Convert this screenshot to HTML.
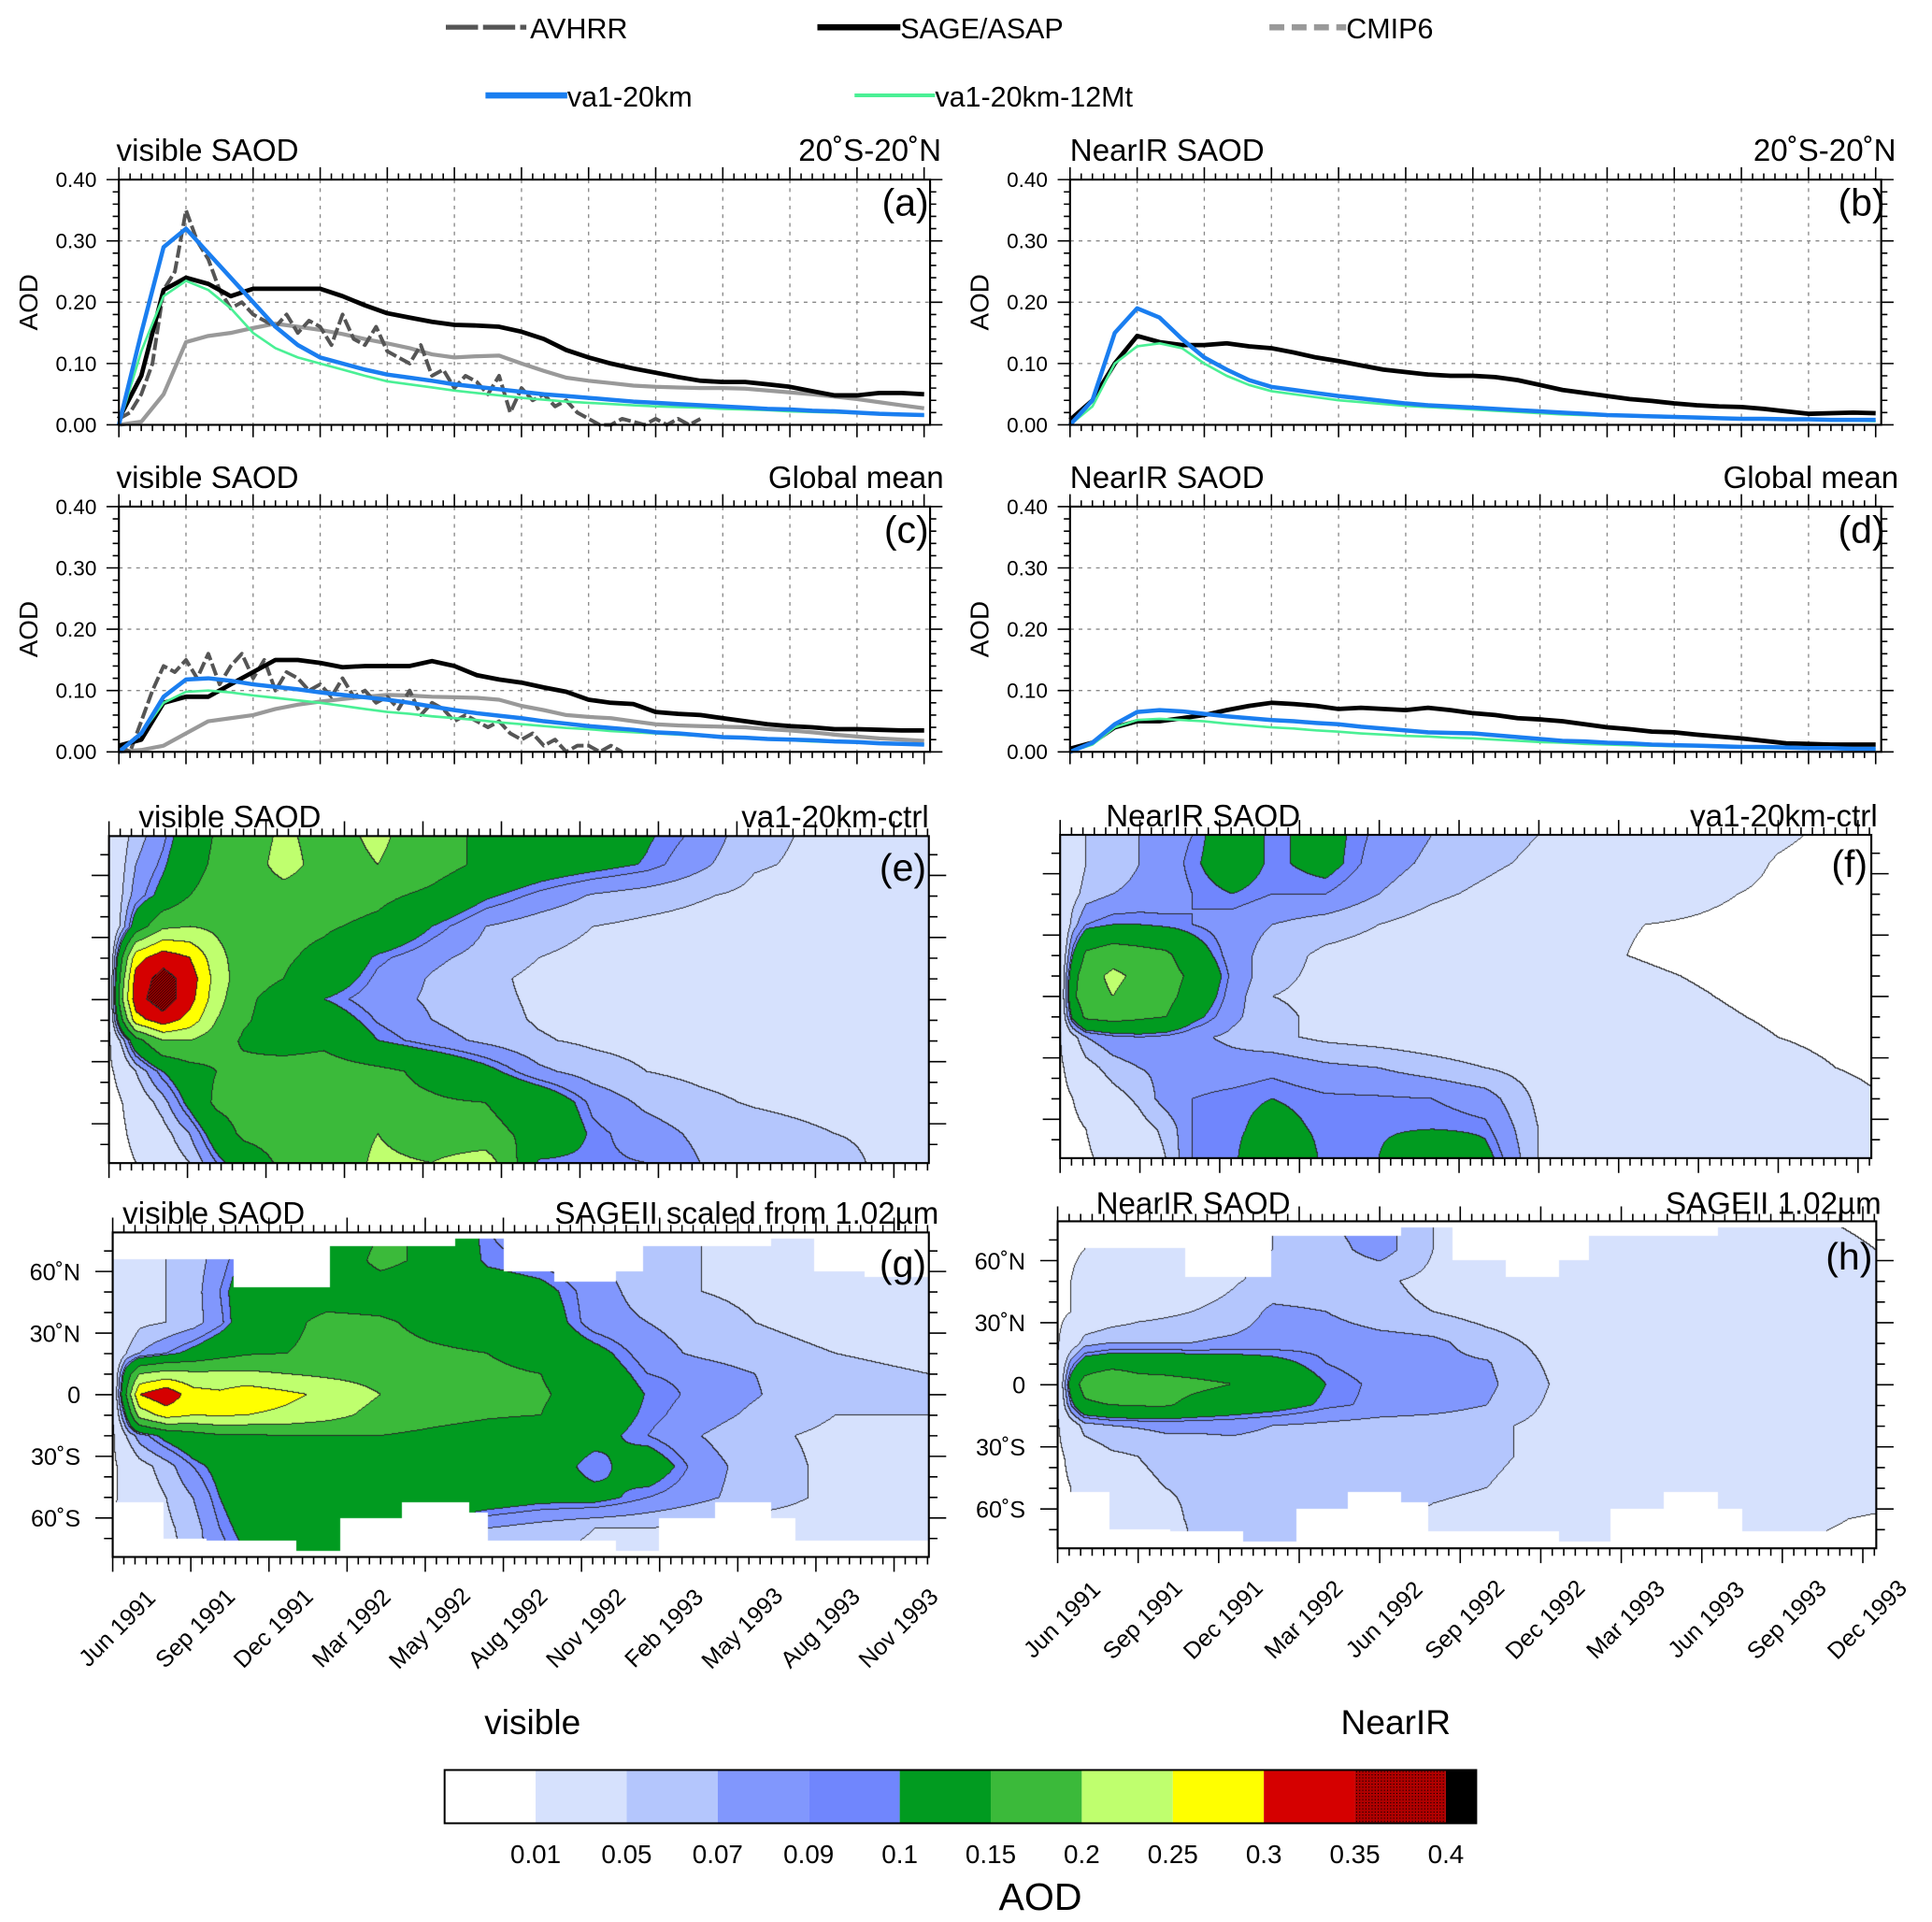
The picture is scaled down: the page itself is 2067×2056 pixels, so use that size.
<!DOCTYPE html>
<html><head><meta charset="utf-8"><style>
html,body{margin:0;padding:0;background:#fff;}
#wrap{position:relative;width:2067px;height:2056px;overflow:hidden;font-family:"Liberation Sans",sans-serif;}
svg{position:absolute;left:0;top:0;}
canvas{position:absolute;}
text{font-family:"Liberation Sans",sans-serif;fill:#000;}
</style></head><body>
<div id="wrap">
<canvas id="cv-e"></canvas>
<canvas id="cv-f"></canvas>
<canvas id="cv-g"></canvas>
<canvas id="cv-h"></canvas>
<svg id="chart" width="2067" height="2056" viewBox="0 0 1560 1551.7" preserveAspectRatio="none">
<g>
<line x1="360" y1="22" x2="425" y2="22" stroke="#555" stroke-width="4" stroke-dasharray="26,4,26,4,3,0"/>
<text x="428" y="31" font-size="23">AVHRR</text>
<line x1="660" y1="22" x2="727" y2="22" stroke="#000" stroke-width="5"/>
<text x="727" y="31" font-size="23">SAGE/ASAP</text>
<line x1="1025" y1="22" x2="1087" y2="22" stroke="#999" stroke-width="5" stroke-dasharray="12,6"/>
<text x="1087" y="31" font-size="23">CMIP6</text>
<line x1="392" y1="77" x2="458" y2="77" stroke="#1a7ef0" stroke-width="5"/>
<text x="458" y="86" font-size="23">va1-20km</text>
<line x1="690" y1="77" x2="755" y2="77" stroke="#4af095" stroke-width="3"/>
<text x="755" y="86" font-size="23">va1-20km-12Mt</text>
</g>
<g font-size="25">
<text x="94" y="130">visible SAOD</text>
<text x="760" y="130" text-anchor="end">20˚S-20˚N</text>
<text x="94" y="394">visible SAOD</text>
<text x="762" y="394" text-anchor="end">Global mean</text>
<text x="864" y="130">NearIR SAOD</text>
<text x="1531" y="130" text-anchor="end">20˚S-20˚N</text>
<text x="864" y="394">NearIR SAOD</text>
<text x="1533" y="394" text-anchor="end">Global mean</text>
<text x="112" y="668">visible SAOD</text>
<text x="750" y="668" text-anchor="end">va1-20km-ctrl</text>
<text x="99" y="988">visible SAOD</text>
<text x="758" y="988" text-anchor="end">SAGEII scaled from 1.02µm</text>
<text x="893" y="667">NearIR SAOD</text>
<text x="1516" y="667" text-anchor="end">va1-20km-ctrl</text>
<text x="885" y="980">NearIR SAOD</text>
<text x="1519" y="980" text-anchor="end">SAGEII 1.02µm</text>
</g>
<g font-size="31">
<text x="750" y="174" text-anchor="end">(a)</text>
<text x="750" y="438" text-anchor="end">(c)</text>
<text x="1522" y="174" text-anchor="end">(b)</text>
<text x="1522" y="438" text-anchor="end">(d)</text>
<text x="748" y="711" text-anchor="end">(e)</text>
<text x="748" y="1031" text-anchor="end">(g)</text>
<text x="1508" y="708" text-anchor="end">(f)</text>
<text x="1512" y="1025" text-anchor="end">(h)</text>
</g>
<text x="430" y="1400" font-size="28" text-anchor="middle">visible</text>
<text x="1127" y="1400" font-size="28" text-anchor="middle">NearIR</text>
<g id="cbar"></g>
<text x="840" y="1542" font-size="31" text-anchor="middle">AOD</text>
</svg>
</div>
<script>
// ---------- time series data (monthly, month 0 = Jun 1991) ----------
const a_blue=[0,0.15,0.29,0.32,0.28,0.24,0.2,0.16,0.13,0.11,0.1,0.09,0.082,0.077,0.072,0.066,0.062,0.058,0.054,0.05,0.047,0.044,0.041,0.038,0.036,0.034,0.032,0.03,0.028,0.026,0.025,0.023,0.022,0.02,0.018,0.017,0.016];
const a_green=[0,0.12,0.21,0.235,0.22,0.19,0.15,0.125,0.11,0.1,0.09,0.08,0.071,0.066,0.061,0.056,0.052,0.048,0.044,0.041,0.038,0.036,0.034,0.032,0.03,0.029,0.028,0.026,0.025,0.024,0.022,0.021,0.02,0.019,0.017,0.016,0.015];
const a_sage=[0.01,0.08,0.22,0.24,0.23,0.21,0.222,0.222,0.222,0.222,0.21,0.195,0.182,0.175,0.168,0.163,0.162,0.16,0.152,0.14,0.122,0.11,0.1,0.092,0.085,0.078,0.072,0.07,0.07,0.066,0.062,0.055,0.048,0.048,0.052,0.052,0.05];
const a_cmip=[0,0.005,0.05,0.135,0.145,0.15,0.158,0.165,0.16,0.155,0.148,0.14,0.133,0.125,0.115,0.11,0.112,0.113,0.1,0.088,0.077,0.072,0.068,0.064,0.062,0.061,0.06,0.06,0.059,0.056,0.053,0.05,0.046,0.042,0.037,0.032,0.027];
const a_avhrr=[0.01,0.02,0.05,0.1,0.22,0.25,0.35,0.3,0.27,0.22,0.19,0.2,0.18,0.17,0.16,0.18,0.15,0.17,0.16,0.13,0.18,0.14,0.13,0.16,0.12,0.11,0.1,0.13,0.08,0.09,0.06,0.08,0.07,0.05,0.08,0.02,0.06,0.04,0.05,0.03,0.04,0.02,0.01,0.0,0.0,0.01,0.005,0.0,0.01,0.0,0.01,0.0,0.01];
const c_blue=[0,0.03,0.09,0.118,0.12,0.116,0.11,0.106,0.102,0.097,0.093,0.089,0.085,0.08,0.074,0.068,0.063,0.059,0.055,0.05,0.046,0.042,0.039,0.036,0.032,0.03,0.027,0.024,0.023,0.021,0.02,0.019,0.017,0.016,0.014,0.013,0.012];
const c_green=[0,0.03,0.08,0.098,0.1,0.097,0.092,0.088,0.084,0.08,0.075,0.07,0.065,0.062,0.058,0.055,0.052,0.048,0.045,0.042,0.039,0.037,0.034,0.032,0.03,0.028,0.026,0.024,0.022,0.02,0.019,0.017,0.016,0.015,0.014,0.013,0.012];
const c_sage=[0.01,0.02,0.08,0.09,0.09,0.11,0.13,0.15,0.15,0.145,0.138,0.14,0.14,0.14,0.148,0.14,0.125,0.118,0.113,0.105,0.098,0.085,0.08,0.078,0.065,0.062,0.06,0.055,0.05,0.045,0.042,0.04,0.037,0.037,0.036,0.035,0.035];
const c_cmip=[0,0.003,0.01,0.03,0.05,0.055,0.06,0.07,0.077,0.082,0.086,0.09,0.093,0.092,0.09,0.089,0.088,0.085,0.075,0.068,0.06,0.057,0.055,0.05,0.045,0.043,0.042,0.041,0.04,0.037,0.035,0.032,0.028,0.025,0.022,0.02,0.018];
const c_avhrr=[0.01,0.0,0.05,0.1,0.14,0.13,0.15,0.12,0.16,0.11,0.14,0.16,0.12,0.15,0.1,0.13,0.12,0.1,0.11,0.09,0.12,0.09,0.1,0.08,0.09,0.07,0.1,0.06,0.08,0.07,0.05,0.06,0.05,0.04,0.05,0.03,0.02,0.03,0.01,0.02,0.0,0.01,0.01,0.0,0.01,0.0];
const b_blue=[0,0.04,0.15,0.19,0.175,0.14,0.11,0.09,0.073,0.062,0.057,0.052,0.047,0.043,0.039,0.035,0.032,0.03,0.028,0.026,0.024,0.022,0.02,0.018,0.016,0.015,0.014,0.013,0.012,0.011,0.01,0.01,0.009,0.009,0.008,0.008,0.008];
const b_green=[0,0.03,0.1,0.128,0.133,0.125,0.1,0.08,0.065,0.055,0.05,0.045,0.04,0.037,0.034,0.031,0.029,0.027,0.025,0.023,0.021,0.019,0.017,0.016,0.015,0.014,0.013,0.012,0.011,0.01,0.01,0.009,0.008,0.008,0.007,0.007,0.006];
const b_sage=[0.008,0.04,0.1,0.145,0.135,0.13,0.13,0.133,0.128,0.125,0.118,0.11,0.104,0.097,0.09,0.086,0.082,0.08,0.08,0.078,0.073,0.065,0.057,0.052,0.047,0.042,0.039,0.035,0.032,0.03,0.029,0.026,0.022,0.018,0.019,0.02,0.019];
const d_blue=[0,0.015,0.045,0.065,0.068,0.066,0.062,0.058,0.055,0.052,0.05,0.047,0.045,0.041,0.038,0.035,0.032,0.031,0.03,0.027,0.024,0.021,0.018,0.017,0.015,0.014,0.012,0.011,0.01,0.009,0.008,0.008,0.007,0.006,0.006,0.005,0.005];
const d_green=[0,0.012,0.04,0.052,0.054,0.052,0.05,0.046,0.043,0.04,0.038,0.035,0.033,0.03,0.028,0.026,0.025,0.023,0.022,0.02,0.018,0.016,0.015,0.013,0.012,0.011,0.01,0.009,0.009,0.008,0.007,0.006,0.006,0.005,0.005,0.004,0.004];
const d_sage=[0.005,0.015,0.04,0.05,0.05,0.055,0.06,0.068,0.075,0.08,0.078,0.075,0.07,0.072,0.07,0.068,0.072,0.068,0.063,0.06,0.055,0.053,0.05,0.045,0.04,0.037,0.033,0.032,0.028,0.025,0.022,0.018,0.014,0.013,0.012,0.012,0.012];
const yTicks=[0,0.1,0.2,0.3,0.4];
const yTickLabels=["0.00","0.10","0.20","0.30","0.40"];

// ---------- contour data ----------
const gridMonths=[0,0.5,1,2,3,4,5,6.5,8,10,12,14,16,18,20,22,24,27,30.5];
const gridLats=[79,65,50,35,20,10,0,-10,-20,-35,-50,-65,-79];
const eGrid=[
[0.02,0.04,0.06,0.085,0.12,0.155,0.17,0.21,0.18,0.21,0.17,0.14,0.13,0.12,0.103,0.085,0.055,0.045,0.04],
[0.02,0.045,0.07,0.095,0.13,0.16,0.17,0.22,0.18,0.2,0.17,0.14,0.12,0.11,0.098,0.075,0.052,0.045,0.04],
[0.02,0.05,0.08,0.11,0.15,0.17,0.17,0.18,0.17,0.16,0.14,0.105,0.085,0.068,0.06,0.052,0.045,0.04,0.035],
[0.01,0.06,0.12,0.19,0.2,0.19,0.17,0.16,0.155,0.14,0.1,0.07,0.058,0.05,0.045,0.042,0.04,0.037,0.035],
[0.01,0.15,0.28,0.33,0.3,0.22,0.17,0.155,0.14,0.095,0.075,0.062,0.05,0.045,0.042,0.04,0.038,0.036,0.035],
[0.01,0.18,0.32,0.37,0.33,0.23,0.17,0.15,0.125,0.085,0.068,0.055,0.045,0.042,0.04,0.038,0.037,0.035,0.035],
[0.01,0.2,0.33,0.38,0.32,0.22,0.16,0.13,0.1,0.078,0.067,0.055,0.047,0.042,0.04,0.038,0.037,0.035,0.035],
[0.01,0.15,0.28,0.33,0.28,0.2,0.155,0.13,0.12,0.088,0.07,0.057,0.048,0.044,0.041,0.039,0.037,0.035,0.035],
[0.005,0.06,0.13,0.2,0.2,0.17,0.145,0.13,0.14,0.1,0.08,0.065,0.052,0.046,0.043,0.04,0.038,0.036,0.035],
[0.005,0.02,0.05,0.1,0.13,0.15,0.16,0.17,0.17,0.16,0.14,0.11,0.075,0.06,0.05,0.045,0.042,0.04,0.037],
[0,0.01,0.03,0.06,0.11,0.16,0.17,0.17,0.165,0.16,0.155,0.15,0.13,0.085,0.065,0.055,0.048,0.042,0.04],
[0,0.005,0.02,0.04,0.07,0.12,0.16,0.17,0.17,0.2,0.17,0.16,0.14,0.095,0.08,0.065,0.06,0.05,0.045],
[0,0,0.01,0.03,0.05,0.09,0.12,0.16,0.16,0.21,0.2,0.23,0.095,0.093,0.09,0.07,0.06,0.055,0.04]];
const fGrid=[
[0.01,0.03,0.05,0.06,0.07,0.08,0.09,0.12,0.095,0.11,0.085,0.07,0.06,0.05,0.04,0.03,0.02,0.012,0.005],
[0.01,0.03,0.05,0.06,0.07,0.08,0.095,0.12,0.095,0.11,0.08,0.065,0.055,0.045,0.035,0.025,0.018,0.009,0.004],
[0.01,0.04,0.06,0.07,0.075,0.08,0.09,0.1,0.09,0.09,0.07,0.055,0.045,0.035,0.025,0.015,0.012,0.008,0.004],
[0.01,0.06,0.09,0.1,0.1,0.095,0.09,0.08,0.07,0.06,0.05,0.04,0.03,0.02,0.012,0.01,0.009,0.007,0.004],
[0.01,0.1,0.16,0.18,0.17,0.16,0.12,0.08,0.06,0.045,0.04,0.035,0.025,0.018,0.012,0.009,0.006,0.005,0.004],
[0.01,0.13,0.18,0.21,0.19,0.17,0.14,0.085,0.055,0.045,0.04,0.035,0.028,0.02,0.015,0.012,0.009,0.005,0.004],
[0.01,0.14,0.18,0.2,0.18,0.165,0.13,0.08,0.05,0.045,0.04,0.035,0.03,0.022,0.018,0.014,0.011,0.006,0.004],
[0.01,0.11,0.16,0.17,0.16,0.15,0.11,0.075,0.055,0.045,0.04,0.035,0.03,0.025,0.02,0.016,0.013,0.008,0.004],
[0.008,0.04,0.07,0.085,0.09,0.085,0.075,0.065,0.055,0.045,0.04,0.035,0.03,0.027,0.023,0.02,0.016,0.01,0.005],
[0.005,0.02,0.04,0.06,0.07,0.075,0.08,0.08,0.085,0.075,0.07,0.06,0.05,0.04,0.035,0.03,0.025,0.015,0.007],
[0.003,0.01,0.02,0.04,0.055,0.08,0.09,0.095,0.1,0.093,0.092,0.09,0.08,0.045,0.035,0.03,0.03,0.025,0.012],
[0.002,0.005,0.01,0.02,0.04,0.055,0.09,0.095,0.11,0.095,0.095,0.1,0.095,0.05,0.04,0.035,0.035,0.03,0.015],
[0.001,0.003,0.008,0.015,0.03,0.05,0.09,0.095,0.13,0.095,0.1,0.15,0.11,0.05,0.04,0.035,0.04,0.035,0.02]];
const gGrid=[
[0.03,0.04,0.04,0.05,0.06,0.07,0.09,0.1,0.12,0.15,0.15,0.09,0.08,0.07,0.06,0.05,0.045,0.04,0.035],
[0.03,0.04,0.045,0.05,0.06,0.08,0.11,0.13,0.12,0.16,0.14,0.095,0.085,0.07,0.06,0.05,0.045,0.04,0.035],
[0.02,0.04,0.045,0.05,0.06,0.09,0.12,0.13,0.13,0.13,0.125,0.12,0.11,0.08,0.06,0.05,0.045,0.04,0.035],
[0.01,0.03,0.045,0.05,0.06,0.085,0.12,0.14,0.16,0.155,0.14,0.13,0.12,0.08,0.07,0.06,0.05,0.045,0.04],
[0.01,0.05,0.07,0.09,0.11,0.13,0.145,0.15,0.16,0.16,0.155,0.15,0.13,0.11,0.08,0.065,0.055,0.05,0.045],
[0.01,0.12,0.2,0.22,0.21,0.21,0.21,0.2,0.19,0.18,0.17,0.16,0.15,0.12,0.09,0.085,0.07,0.055,0.05],
[0.01,0.15,0.3,0.34,0.27,0.26,0.28,0.26,0.24,0.2,0.17,0.16,0.155,0.13,0.098,0.085,0.072,0.05,0.06],
[0.01,0.1,0.22,0.27,0.25,0.255,0.25,0.24,0.22,0.18,0.165,0.155,0.15,0.12,0.095,0.08,0.065,0.05,0.05],
[0.005,0.05,0.08,0.11,0.13,0.145,0.145,0.15,0.15,0.15,0.14,0.13,0.12,0.11,0.09,0.07,0.055,0.045,0.04],
[0.005,0.02,0.04,0.06,0.09,0.11,0.12,0.13,0.13,0.14,0.14,0.13,0.12,0.09,0.12,0.08,0.06,0.045,0.04],
[0.005,0.02,0.035,0.05,0.07,0.1,0.12,0.13,0.13,0.14,0.13,0.12,0.11,0.11,0.09,0.075,0.06,0.045,0.04],
[0.01,0.02,0.03,0.045,0.06,0.09,0.11,0.12,0.12,0.1,0.09,0.07,0.06,0.05,0.05,0.045,0.04,0.04,0.04],
[0.01,0.02,0.03,0.04,0.06,0.08,0.1,0.12,0.1,0.08,0.07,0.06,0.05,0.045,0.04,0.04,0.04,0.04,0.04]];
const hGrid=[
[0.005,0.005,0.008,0.01,0.015,0.02,0.03,0.04,0.05,0.07,0.08,0.05,0.045,0.04,0.035,0.03,0.03,0.012,0.008],
[0.005,0.008,0.01,0.015,0.02,0.03,0.04,0.045,0.05,0.06,0.08,0.05,0.04,0.035,0.03,0.03,0.025,0.015,0.01],
[0.005,0.01,0.015,0.02,0.03,0.035,0.04,0.048,0.055,0.055,0.053,0.045,0.035,0.03,0.03,0.03,0.025,0.02,0.012],
[0.005,0.01,0.02,0.03,0.04,0.045,0.05,0.055,0.075,0.07,0.055,0.05,0.04,0.035,0.03,0.03,0.03,0.02,0.015],
[0.008,0.03,0.06,0.07,0.07,0.07,0.07,0.075,0.08,0.085,0.08,0.075,0.06,0.045,0.035,0.03,0.03,0.025,0.02],
[0.01,0.08,0.12,0.13,0.13,0.13,0.125,0.12,0.11,0.09,0.08,0.075,0.072,0.05,0.04,0.035,0.03,0.028,0.025],
[0.01,0.12,0.17,0.2,0.17,0.165,0.16,0.15,0.13,0.1,0.085,0.08,0.075,0.052,0.04,0.035,0.032,0.03,0.028],
[0.01,0.09,0.14,0.15,0.155,0.155,0.14,0.125,0.115,0.095,0.085,0.08,0.07,0.05,0.04,0.035,0.03,0.03,0.028],
[0.008,0.03,0.06,0.07,0.072,0.075,0.075,0.075,0.07,0.065,0.06,0.058,0.055,0.045,0.04,0.035,0.032,0.03,0.028],
[0.005,0.015,0.03,0.045,0.05,0.055,0.055,0.06,0.06,0.065,0.07,0.06,0.055,0.045,0.04,0.035,0.03,0.03,0.025],
[0.005,0.01,0.02,0.035,0.045,0.05,0.052,0.055,0.06,0.065,0.07,0.055,0.05,0.04,0.035,0.03,0.03,0.025,0.02],
[0.005,0.01,0.015,0.025,0.035,0.045,0.052,0.055,0.055,0.055,0.05,0.045,0.04,0.035,0.03,0.03,0.025,0.015,0.008],
[0.005,0.01,0.015,0.02,0.03,0.04,0.05,0.055,0.05,0.05,0.045,0.04,0.035,0.03,0.03,0.03,0.02,0.01,0.005]];
// missing-data masks: [startMonth, endMonth, latitude limit]
const gTopMask=[[0,4.5,66],[4.5,8.1,52],[8.1,12.8,72],[12.8,14.6,76],[14.6,16.5,60],[16.5,18.8,55],[18.8,19.8,60],[19.8,24.6,72],[24.6,26.2,76],[26.2,28.1,60],[28.1,30.5,57]];
const gBotMask=[[0,1.9,-52],[1.9,3.5,-70],[3.5,6.85,-71],[6.85,8.5,-76],[8.5,10.8,-60],[10.8,13.3,-52],[13.3,14,-57],[14,18.8,-71],[18.8,20.4,-76],[20.4,22.5,-60],[22.5,24.6,-52],[24.6,25.5,-60],[25.5,30.5,-71]];
const hTopMask=[[0,4.75,66],[4.75,7.96,52],[7.96,12.8,72],[12.8,14.7,76],[14.7,16.7,60],[16.7,18.7,52],[18.7,19.8,60],[19.8,24.6,72],[24.6,30.5,76]];
const hBotMask=[[0,1.9,-52],[1.9,4.2,-70],[4.2,6.9,-71],[6.9,8.9,-76],[8.9,10.8,-60],[10.8,12.8,-52],[12.8,13.8,-57],[13.8,18.7,-71],[18.7,20.6,-76],[20.6,22.6,-60],[22.6,24.6,-52],[24.6,25.5,-60],[25.5,30.5,-71]];
const levels=[0.01,0.05,0.07,0.09,0.1,0.15,0.2,0.25,0.3,0.35,0.4];
const levelLabels=["0.01","0.05","0.07","0.09","0.1","0.15","0.2","0.25","0.3","0.35","0.4"];
const levelColors=["#ffffff","#d6e1fd","#b4c6fd","#8197fd","#7086fd","#019b20","#3bba3a","#bfff6e","#ffff00","#d50000","#b00000","#000000"];
const latTicks=[60,30,0,-30,-60];
const latTickLabels=["60˚N","30˚N","0","30˚S","60˚S"];
const leftDateLabels=["Jun 1991","Sep 1991","Dec 1991","Mar 1992","May 1992","Aug 1992","Nov 1992","Feb 1993","May 1993","Aug 1993","Nov 1993"];
const rightDateLabels=["Jun 1991","Sep 1991","Dec 1991","Mar 1992","Jun 1992","Sep 1992","Dec 1992","Mar 1993","Jun 1993","Sep 1993","Dec 1993"];
const leftTickMonths=[0,2.92,5.84,8.76,11.68,14.6,17.52,20.44,23.36,26.28,29.2];
const rightTickMonths=[0,3,6,9,12,15,18,21,24,27,30];

// ---------- helpers ----------
const S=2067/1560;
const svg=document.getElementById('chart');
const NS='http://www.w3.org/2000/svg';
function mk(tag,attrs,parent){const e=document.createElementNS(NS,tag);for(const k in attrs)e.setAttribute(k,attrs[k]);(parent||svg).appendChild(e);return e;}

const tsPanels=[
 {id:'a',x0:96,x1:751,y0:145,y1:343,ppm:18.06,series:[[a_cmip,1,'cmip'],[a_avhrr,0.5,'avhrr'],[a_sage,1,'sage'],[a_green,1,'green'],[a_blue,1,'blue']]},
 {id:'c',x0:96,x1:751,y0:409,y1:607,ppm:18.06,series:[[c_cmip,1,'cmip'],[c_avhrr,0.5,'avhrr'],[c_sage,1,'sage'],[c_green,1,'green'],[c_blue,1,'blue']]},
 {id:'b',x0:864,x1:1519,y0:145,y1:343,ppm:18.07,series:[[b_sage,1,'sage'],[b_green,1,'green'],[b_blue,1,'blue']]},
 {id:'d',x0:864,x1:1519,y0:409,y1:607,ppm:18.07,series:[[d_sage,1,'sage'],[d_green,1,'green'],[d_blue,1,'blue']]}
];
const styles={cmip:{stroke:'#999',w:3.2,dash:''},avhrr:{stroke:'#555',w:3,dash:'10,3'},sage:{stroke:'#000',w:3.6,dash:''},green:{stroke:'#4af095',w:2,dash:''},blue:{stroke:'#1a7ef0',w:3.4,dash:''}};

tsPanels.forEach(p=>{
 const g=mk('g',{});
 
 
 const xs=m=>p.x0+m*p.ppm;
 const ys=v=>p.y1-v/0.4*(p.y1-p.y0);
 for(let m=3;m<36;m+=3){const l=mk('line',{x1:xs(m),x2:xs(m),y1:p.y0,y2:p.y1,stroke:'#888','stroke-width':1,'stroke-dasharray':'3,4'},g);
  
  }
 for(let i=1;i<4;i++){const l=mk('line',{x1:p.x0,x2:p.x1,y1:ys(yTicks[i]),y2:ys(yTicks[i]),stroke:'#888','stroke-width':1,'stroke-dasharray':'3,4'},g);
  
  }
 p.series.forEach(s=>{
  const arr=s[0],step=s[1],st=styles[s[2]];
  let d='';arr.forEach((v,i)=>{d+=(i?'L':'M')+xs(i*step).toFixed(1)+','+ys(v).toFixed(1);});
  const path=mk('path',{d:d,fill:'none',stroke:st.stroke,'stroke-width':st.w,'stroke-dasharray':st.dash,'stroke-linejoin':'round'},g);
  
  
 });
 const fr=mk('rect',{x:p.x0,y:p.y0,width:p.x1-p.x0,height:p.y1-p.y0,fill:'none',stroke:'#000','stroke-width':1.6},g);
 
 
 let td='';
 for(let k=0;k<=73;k++){const m=k*0.5;if(xs(m)>p.x1+0.5)break;const L=(k%6===0)?10:5;td+=`M${xs(m)},${p.y1}v${L}M${xs(m)},${p.y0}v${-L}`;}
 for(let k=0;k<=20;k++){const v=k*0.02;const L=(k%5===0)?10:5;td+=`M${p.x0},${ys(v)}h${-L}M${p.x1},${ys(v)}h${L}`;}
 const tk=mk('path',{d:td,stroke:'#000','stroke-width':1.2,fill:'none'},g);
 
 
 yTicks.forEach((v,i)=>{const t=mk('text',{x:p.x0-18,y:ys(v)+6,'font-size':17,'text-anchor':'end'},g);t.textContent=yTickLabels[i];
  
  });
 const yt=mk('text',{x:0,y:0,'font-size':21,'text-anchor':'middle',transform:`translate(${p.x0-66},${(p.y0+p.y1)/2}) rotate(-90)`},g);
 yt.textContent='AOD';
 
 
});

// ---------- contour panels ----------
const cPanels=[
 {id:'e',x0:88,x1:750,y0:675,y1:939,grid:eGrid,top:null,bot:null,ticks:leftTickMonths,labels:null,ylab:false},
 {id:'g',x0:91,x1:750,y0:995,y1:1257,grid:gGrid,top:gTopMask,bot:gBotMask,ticks:leftTickMonths,labels:leftDateLabels,ylab:true},
 {id:'f',x0:856,x1:1511,y0:674,y1:935,grid:fGrid,top:null,bot:null,ticks:rightTickMonths,labels:null,ylab:false},
 {id:'h',x0:854,x1:1515,y0:986,y1:1250,grid:hGrid,top:hTopMask,bot:hBotMask,ticks:rightTickMonths,labels:rightDateLabels,ylab:true}
];
function seg(arr,x){for(let i=0;i<arr.length-1;i++){if(x<=arr[i+1])return i;}return arr.length-2;}
function interp(grid,m,lat){
 const i=Math.max(0,seg(gridMonths,m));
 let j=0;for(j=0;j<gridLats.length-2;j++){if(lat>=gridLats[j+1])break;}
 const tx=Math.min(1,Math.max(0,(m-gridMonths[i])/(gridMonths[i+1]-gridMonths[i])));
 const ty=Math.min(1,Math.max(0,(gridLats[j]-lat)/(gridLats[j]-gridLats[j+1])));
 const a=grid[j][i],b=grid[j][i+1],c=grid[j+1][i],d=grid[j+1][i+1];
 return a*(1-tx)*(1-ty)+b*tx*(1-ty)+c*(1-tx)*ty+d*tx*ty;
}
function masked(p,m,lat){
 if(p.top){for(const s of p.top){if(m>=s[0]&&m<=s[1]&&lat>s[2])return true;}}
 if(p.bot){for(const s of p.bot){if(m>=s[0]&&m<=s[1]&&lat<s[2])return true;}}
 return false;
}
function hex(c){return [parseInt(c.substr(1,2),16),parseInt(c.substr(3,2),16),parseInt(c.substr(5,2),16)];}
const rgb=levelColors.map(hex);
cPanels.forEach(p=>{
 const cv=document.getElementById('cv-'+p.id);
 const L=Math.round(p.x0*S),T=Math.round(p.y0*S);
 const W=Math.round(p.x1*S)-L,H=Math.round(p.y1*S)-T;
 cv.width=W;cv.height=H;cv.style.left=L+'px';cv.style.top=T+'px';
 const ctx=cv.getContext('2d');const img=ctx.createImageData(W,H);
 const lev=new Int8Array(W*H);
 const mmax=30.5,latTop=79;
 for(let y=0;y<H;y++){const lat=latTop-(y+0.5)/H*2*latTop;
  for(let x=0;x<W;x++){const m=(x+0.5)/W*mmax;
   if(masked(p,m,lat)){lev[y*W+x]=-1;continue;}
   const v=interp(p.grid,m,lat);let k=0;while(k<levels.length&&v>=levels[k])k++;lev[y*W+x]=k;}}
 for(let y=0;y<H;y++)for(let x=0;x<W;x++){
  const idx=y*W+x,k=lev[idx];let c;
  if(k<0)c=[255,255,255];else{c=rgb[k];
   if(k===10&&((x+y)%3===0))c=[0,0,0];
   const r=x+1<W?lev[idx+1]:k,b=y+1<H?lev[idx+W]:k;
   if((r>=0&&r!==k)||(b>=0&&b!==k))c=[40,40,40];}
  img.data[idx*4]=c[0];img.data[idx*4+1]=c[1];img.data[idx*4+2]=c[2];img.data[idx*4+3]=255;}
 ctx.putImageData(img,0,0);
 const g=mk('g',{});
 
 
 const ppm=(p.x1-p.x0)/30.5;const xs=m=>p.x0+m*ppm;
 const ys=lat=>p.y0+(79-lat)/158*(p.y1-p.y0);
 const fr=mk('rect',{x:p.x0,y:p.y0,width:p.x1-p.x0,height:p.y1-p.y0,fill:'none',stroke:'#000','stroke-width':1.6},g);
 
 
 let td='';
 const tm=p.ticks,iv=tm[1]-tm[0];
 for(let i=0;i<tm.length;i++){for(let k=0;k<7;k++){const m=tm[i]+k*iv/7;if(m>30.5)break;const Lt=k===0?12:6;
  td+=`M${xs(m)},${p.y1}v${Lt}M${xs(m)},${p.y0}v${-Lt}`;}}
 for(let lat=-70;lat<=70;lat+=10){const Lt=(lat%30===0)?14:7;td+=`M${p.x0},${ys(lat)}h${-Lt}M${p.x1},${ys(lat)}h${Lt}`;}
 const tk=mk('path',{d:td,stroke:'#000','stroke-width':1.2,fill:'none'},g);
 
 
 if(p.ylab){latTicks.forEach((lat,i)=>{const t=mk('text',{x:p.x0-26,y:ys(lat)+7,'font-size':19,'text-anchor':'end'},g);t.textContent=latTickLabels[i];
  
  });}
 if(p.labels){p.labels.forEach((s,i)=>{const cx=xs(tm[i])+8;const t=mk('text',{x:0,y:0,'font-size':19,'text-anchor':'middle',transform:`translate(${cx},${p.y1+62}) rotate(-45)`},g);t.textContent=s;
  
  });}
});

// ---------- colorbar ----------
const cb=document.getElementById('cbar');
const cbx0=359,cbw=73.5,cby=1429,cbh=43;
levelColors.forEach((c,i)=>{const w=i===11?24.5:cbw;const r=mk('rect',{x:cbx0+i*cbw,y:cby,width:w,height:cbh,fill:c},cb);
 
 });
const pat=mk('g',{},cb);
for(let yy=cby+1;yy<cby+cbh;yy+=2.5)for(let xx=cbx0+10*cbw+1;xx<cbx0+11*cbw;xx+=2.5){mk('rect',{x:xx,y:yy,width:0.8,height:0.8,fill:'#000'},pat);}
const cbf=mk('rect',{x:cbx0,y:cby,width:11*cbw+24.5,height:cbh,fill:'none',stroke:'#000','stroke-width':1.5},cb);


levelLabels.forEach((s,i)=>{const t=mk('text',{x:cbx0+(i+1)*cbw,y:1504,'font-size':21,'text-anchor':'middle'},cb);t.textContent=s;
 
 });
</script>
</body></html>
